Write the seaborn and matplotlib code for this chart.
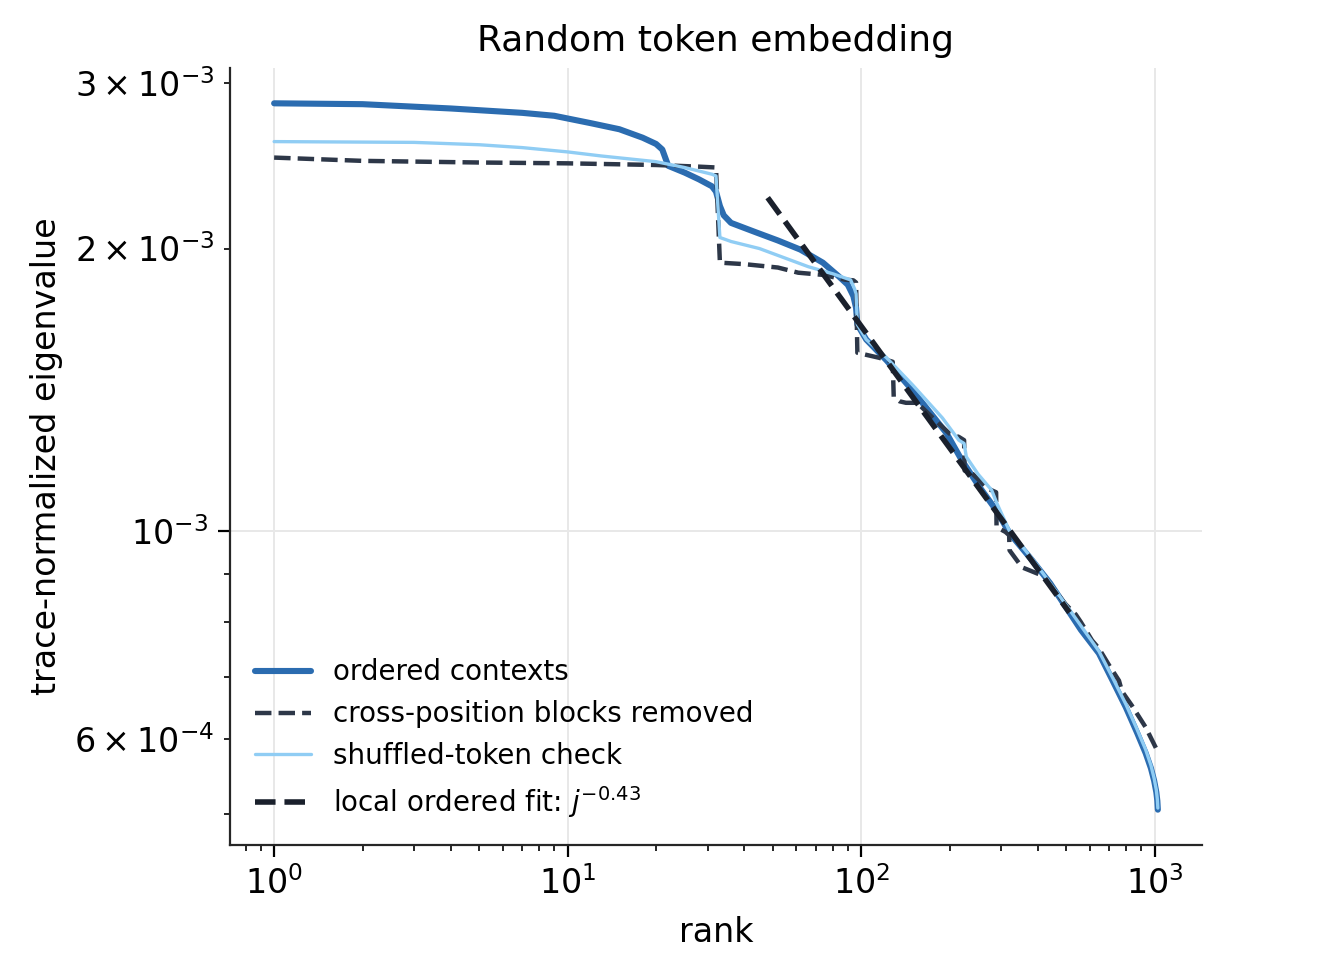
import numpy as np
import pandas as pd
import matplotlib
matplotlib.use("Agg")
import matplotlib.pyplot as plt
import seaborn as sns

# 고유값 스펙트럼 (trace 정규화, 단위 1e-3) - 그림에서 읽은 값
ordered_rank = [1, 2, 4, 7, 9, 12, 15, 18, 20, 21, 22, 25, 28, 31, 32, 33, 34, 36, 44, 52,
                62, 74, 84, 90, 94, 96, 97, 104, 122, 149, 195, 220, 255, 288, 320, 382,
                440, 498, 560, 645, 720, 797, 870, 931, 970, 995, 1012, 1020, 1024]
ordered_val = [2.856, 2.85, 2.82, 2.79, 2.77, 2.72, 2.68, 2.625, 2.585, 2.55, 2.45, 2.41,
               2.37, 2.33, 2.30, 2.22, 2.17, 2.13, 2.08, 2.04, 1.995, 1.932, 1.867, 1.83,
               1.78, 1.73, 1.66, 1.60, 1.52, 1.414, 1.272, 1.19, 1.11, 1.053, 0.995, 0.931,
               0.88, 0.830, 0.785, 0.741, 0.692, 0.649, 0.610, 0.580, 0.559, 0.542, 0.527,
               0.516, 0.505]

blocks_rank = [1, 2, 5, 10, 20, 28, 32, 33, 40, 52, 61, 74, 88, 94, 96, 97, 105, 115, 128,
               129, 135, 142, 155, 180, 200, 215, 224, 225, 240, 270, 288, 289, 310, 319,
               320, 353, 372, 420, 498, 538, 560, 611, 645, 698, 755, 773, 835, 931, 1024]
blocks_val = [2.50, 2.48, 2.47, 2.465, 2.455, 2.445, 2.44, 1.932, 1.925, 1.909, 1.885, 1.875,
              1.853, 1.85, 1.84, 1.549, 1.54, 1.530, 1.515, 1.39, 1.375, 1.37, 1.37, 1.31,
              1.27, 1.26, 1.25, 1.16, 1.15, 1.11, 1.10, 1.01, 0.998, 0.99, 0.954, 0.915,
              0.909, 0.895, 0.835, 0.815, 0.80, 0.765, 0.75, 0.72, 0.693, 0.675, 0.652,
              0.618, 0.582]

shuffled_rank = [1, 3, 5, 7, 10, 13, 20, 25, 31, 32, 33, 36, 45, 66, 80, 92, 95, 96, 97, 104,
                 122, 150, 189, 215, 224, 228, 250, 278, 290, 320, 382, 498, 645, 720, 797,
                 870, 931, 970, 995, 1012, 1020, 1024]
shuffled_val = [2.60, 2.595, 2.58, 2.562, 2.535, 2.51, 2.475, 2.44, 2.40, 2.39, 2.055, 2.035,
                2.00, 1.913, 1.88, 1.852, 1.81, 1.79, 1.66, 1.60, 1.53, 1.43, 1.32, 1.25,
                1.24, 1.20, 1.15, 1.106, 1.07, 1.00, 0.935, 0.835, 0.745, 0.697, 0.654,
                0.615, 0.585, 0.563, 0.545, 0.530, 0.518, 0.507]

# local power-law fit j^-0.43 (끝점 두 개)
fit_rank = [48, 512]
fit_val = [2.266, 0.819]

ordered_val = np.array(ordered_val) * 1e-3
blocks_val = np.array(blocks_val) * 1e-3
shuffled_val = np.array(shuffled_val) * 1e-3
fit_val = np.array(fit_val) * 1e-3

sns.set_style("ticks")
plt.rcParams['font.family'] = ['DejaVu Sans']
plt.rcParams['text.color'] = 'black'
plt.rcParams['axes.labelcolor'] = 'black'
plt.rcParams['xtick.major.size'] = 4.2
plt.rcParams['ytick.major.size'] = 4.2
plt.rcParams['xtick.minor.size'] = 2.2
plt.rcParams['ytick.minor.size'] = 2.2

fig, ax = plt.subplots(figsize=(6.585, 4.775), dpi=200)
fig.subplots_adjust(left=0.1746, right=0.9127, top=0.9288, bottom=0.1152)

sns.lineplot(x=ordered_rank, y=ordered_val, color="#2b6cb0", lw=2.2,
             label="ordered contexts", ax=ax)
sns.lineplot(x=blocks_rank, y=blocks_val, color="#2d3748", lw=1.6, ls="--",
             label="cross-position blocks removed", ax=ax)
sns.lineplot(x=shuffled_rank, y=shuffled_val, color="#90cdf4", lw=1.2,
             label="shuffled-token check", ax=ax)
sns.lineplot(x=fit_rank, y=fit_val, color="#1a202c", lw=2.0, ls="--",
             label=r"local ordered fit: $j^{-0.43}$", ax=ax)

ax.set_xscale("log")
ax.set_yscale("log")
ax.grid(True, which="major", color="#e8e8e8", lw=0.7)
ax.tick_params(which="both", labelsize=12, colors="black")

ax.set_title("Random token embedding", fontsize=13)
ax.set_xlabel("rank", fontsize=12, labelpad=5.5)
ax.set_ylabel("trace-normalized eigenvalue", fontsize=12)
ax.legend(loc="lower left", frameon=False, fontsize=10)
sns.despine()

fig.savefig("out.png", dpi=200)
